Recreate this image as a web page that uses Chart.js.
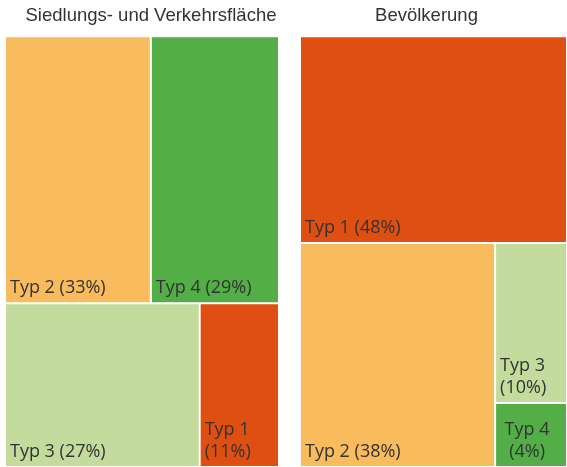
<!DOCTYPE html>
<html><head><meta charset="utf-8">
<script src="https://cdn.jsdelivr.net/npm/chart.js@4.4.0/dist/chart.umd.min.js"></script>
<style>
html,body{margin:0;padding:0;background:#fff;overflow:hidden;width:567px;height:467px}
.box{position:absolute;top:0;height:467px}
#b1{left:0;width:297px}
#b2{left:286px;width:281px}
</style></head><body>
<div class="box" id="b1"><canvas id="c1"></canvas></div>
<div class="box" id="b2"><canvas id="c2"></canvas></div>
<script>
// ---- data ----
const categories = ['Typ 1', 'Typ 2', 'Typ 3', 'Typ 4'];
const areaShare = [11, 33, 27, 29];        // Siedlungs- und Verkehrsfläche, %
const populationShare = [48, 38, 10, 4];   // Bevölkerung, %
const chartTitles = ['Siedlungs- und Verkehrsfläche', 'Bevölkerung'];

const typeColors = ['#E04F12', '#F8BB5E', '#C3DC9E', '#53AE47'];

// binary treemap layout in data units (0..100 both axes), splitting along the longer pixel side
function binaryLayout(items, x0, y0, x1, y1, pxX, pxY, out) {
  if (items.length === 1) { out[items[0].i] = {x0, y0, x1, y1}; return; }
  const sums = []; let acc = 0;
  items.forEach(d => { acc += d.v; sums.push(acc); });
  const total = acc, half = total / 2;
  let k = 1, best = Infinity;
  for (let j = 1; j < items.length; j++) {
    const diff = Math.abs(sums[j - 1] - half);
    if (diff < best) { best = diff; k = j; }
  }
  const a = items.slice(0, k), b = items.slice(k), va = sums[k - 1];
  if ((x1 - x0) * pxX > (y1 - y0) * pxY) {
    const xm = x0 + (x1 - x0) * va / total;
    binaryLayout(a, x0, y0, xm, y1, pxX, pxY, out);
    binaryLayout(b, xm, y0, x1, y1, pxX, pxY, out);
  } else {
    const ym = y0 + (y1 - y0) * va / total;
    binaryLayout(a, x0, y0, x1, ym, pxX, pxY, out);
    binaryLayout(b, x0, ym, x1, y1, pxX, pxY, out);
  }
}

class TreemapController extends Chart.DatasetController {
  update(mode) {
    const meta = this._cachedMeta;
    this.updateElements(meta.data, 0, meta.data.length, mode);
  }
  updateElements(rects, start, count, mode) {
    const meta = this._cachedMeta;
    const xs = meta.xScale, ys = meta.yScale;
    const values = this.getDataset().data;
    const items = values.map((v, i) => ({i, v})).sort((a, b) => b.v - a.v);
    const pxX = Math.abs(xs.getPixelForValue(100) - xs.getPixelForValue(0)) / 100;
    const pxY = Math.abs(ys.getPixelForValue(100) - ys.getPixelForValue(0)) / 100;
    const out = [];
    binaryLayout(items, 0, 0, 100, 100, pxX, pxY, out);
    for (let i = start; i < start + count; i++) {
      const r = out[i];
      const l = xs.getPixelForValue(r.x0), rr = xs.getPixelForValue(r.x1);
      const t = ys.getPixelForValue(r.y0), b = ys.getPixelForValue(r.y1);
      this.updateElement(rects[i], i, {
        x: (l + rr) / 2, y: t, base: b, width: rr - l, height: b - t,
        horizontal: false,
        borderSkipped: {top: false, bottom: false, left: false, right: false},
        inflateAmount: 0,
        enableBorderRadius: false,
        options: this.resolveDataElementOptions(i, mode)
      }, mode);
    }
  }
}
TreemapController.id = 'treemap';
TreemapController.defaults = {dataElementType: 'bar', datasetElementType: false, indexAxis: 'x'};
Chart.register(TreemapController);

const labelPlugin = {
  id: 'tmLabels',
  afterDatasetsDraw(chart, args, opts) {
    const meta = chart.getDatasetMeta(0);
    const values = chart.data.datasets[0].data;
    const ctx = chart.ctx;
    ctx.save();
    ctx.font = '18px "Open Sans"';
    ctx.fillStyle = '#333';
    ctx.textBaseline = 'middle';
    meta.data.forEach((el, i) => {
      const left = el.x - el.width / 2, right = el.x + el.width / 2, bottom = el.base;
      const full = categories[i] + ' (' + values[i] + '%)';
      let lines = [full];
      if (ctx.measureText(full).width > el.width - 12) lines = [categories[i], '(' + values[i] + '%)'];
      const centered = (opts.center || []).includes(i);
      ctx.textAlign = centered ? 'center' : 'left';
      const tx = centered ? (left + right) / 2 - 4 : left + 5;
      lines.forEach((ln, j) => {
        ctx.fillText(ln, tx, bottom - 15 - (lines.length - 1 - j) * 22);
      });
    });
    ctx.restore();
  }
};

function makeChart(id, title, values, padLeft, xMin, xMax, centerIdx) {
  return new Chart(document.getElementById(id), {
    type: 'treemap',
    data: {
      labels: categories,
      datasets: [{
        data: values,
        backgroundColor: typeColors,
        borderColor: '#ffffff',
        borderWidth: 1
      }]
    },
    options: {
      responsive: true,
      maintainAspectRatio: false,
      animation: false,
      events: [],
      layout: {padding: {left: padLeft, right: 0, top: 0, bottom: 0}},
      scales: {
        x: {type: 'linear', min: xMin, max: xMax, display: false},
        y: {type: 'linear', min: 0, max: 100, reverse: true, display: false}
      },
      plugins: {
        legend: {display: false},
        tooltip: {enabled: false},
        title: {
          display: true, text: title, color: '#333',
          font: {family: '"Liberation Sans", Arial, sans-serif', size: 18.5, weight: 'normal'},
          padding: {top: 5, bottom: 9}
        },
        tmLabels: {center: centerIdx}
      }
    },
    plugins: [labelPlugin]
  });
}

// left: chart area 5..297, treemap occupies 0..100 => 5..279
makeChart('c1', chartTitles[0], areaShare, 5, 0, 106.57, []);
// right: chart area 286..567, treemap occupies 0..100 => 300..567
makeChart('c2', chartTitles[1], populationShare, 0, -5.24, 100, [3]);
</script>
</body></html>
